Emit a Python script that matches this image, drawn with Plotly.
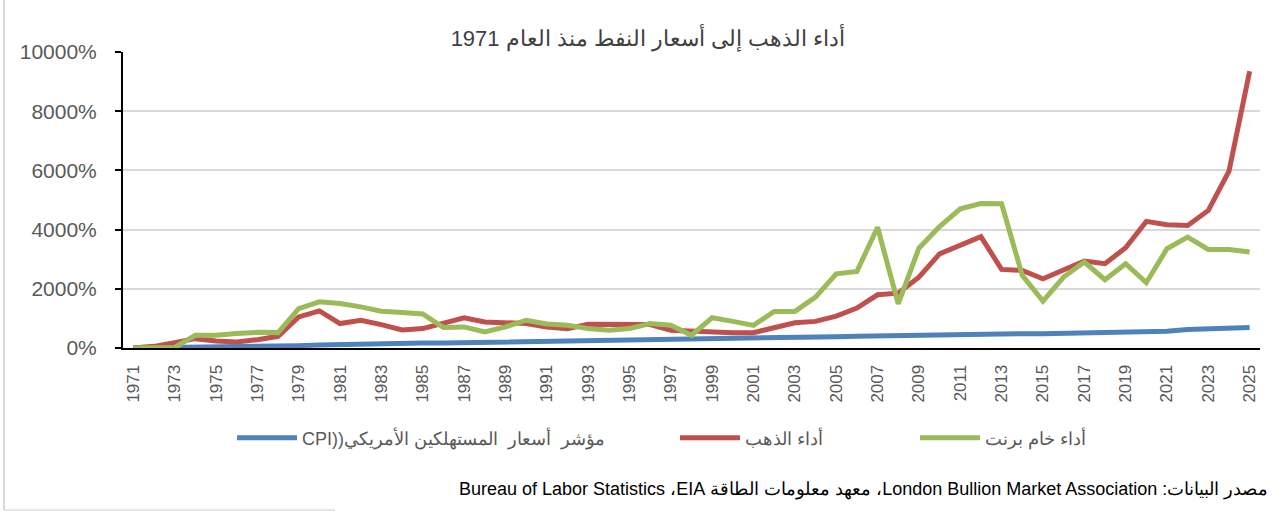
import plotly.graph_objects as go

years = list(range(1971, 2026))

cpi = [0, 5, 12, 22, 33, 40, 50, 61, 79, 103, 124, 138, 146, 157, 166, 171, 180, 192, 206, 223,
       236, 246, 257, 266, 276, 287, 296, 302, 311, 325, 337, 344, 354, 366, 382, 398, 412, 432,
       430, 439, 455, 467, 475, 484, 485, 493, 505, 520, 531, 539, 569, 623, 652, 675, 690]

gold = [0, 56, 180, 316, 237, 203, 282, 395, 1050, 1254, 825, 938, 791, 610, 655, 847, 1017, 881,
        847, 825, 712, 655, 802, 791, 791, 791, 600, 562, 562, 517, 517, 685, 854, 899, 1079, 1348,
        1798, 1854, 2393, 3180, 3461, 3760, 2656, 2622, 2341, 2622, 2937, 2848, 3388, 4277, 4164,
        4142, 4648, 5977, 9353]

brent = [0, 0, 20, 430, 430, 486, 530, 520, 1333, 1559, 1503, 1390, 1243, 1200, 1150, 690, 712,
         542, 712, 938, 810, 768, 655, 599, 655, 825, 768, 430, 1022, 899, 764, 1236, 1236, 1719,
         2506, 2584, 4079, 1494, 3371, 4101, 4700, 4880, 4873, 2454, 1587, 2397, 2904, 2307, 2848,
         2206, 3354, 3748, 3331, 3331, 3241]

tick_years = list(range(1971, 2026, 2))
y_ticks = [0, 2000, 4000, 6000, 8000, 10000]

name_cpi = "CPI))مؤشر  أسعار  المستهلكين الأمريكي"
name_gold = "أداء الذهب"
name_brent = "أداء خام برنت"
title_text = "أداء الذهب إلى أسعار النفط منذ العام 1971"
source_text = ("\u202bمصدر البيانات: London Bullion Market Association، معهد معلومات الطاقة "
               "EIA\u200f، Bureau of Labor Statistics\u202c")

W, H = 1287, 511
L, R, T, B = 123, 27, 52, 163
pw = W - L - R
ph = H - T - B

fig = go.Figure()
fig.add_trace(go.Scatter(x=years, y=cpi, mode="lines", name=name_cpi,
                         line=dict(color="#4F81BD", width=5), legend="legend"))
fig.add_trace(go.Scatter(x=years, y=gold, mode="lines", name=name_gold,
                         line=dict(color="#C0504D", width=5), legend="legend2"))
fig.add_trace(go.Scatter(x=years, y=brent, mode="lines", name=name_brent,
                         line=dict(color="#9BBB59", width=5), legend="legend3"))

def px2x(px):
    return (px - L) / pw

def py2y(py):
    return 1 - (py - T) / ph

leg_common = dict(orientation="h", yanchor="middle", xanchor="left", y=py2y(438),
                  font=dict(family="Liberation Sans", size=18, color="#595959"),
                  bgcolor="rgba(0,0,0,0)", borderwidth=0, itemwidth=60)

fig.update_layout(
    width=W, height=H,
    margin=dict(l=L, r=R, t=T, b=B),
    paper_bgcolor="white", plot_bgcolor="white",
    title=dict(text=title_text, x=648 / W, xanchor="center", y=1 - 38 / H, yanchor="middle",
               font=dict(family="Liberation Sans", size=22, color="#404040")),
    showlegend=True,
    legend=dict(x=px2x(232), **leg_common),
    legend2=dict(x=px2x(675), **leg_common),
    legend3=dict(x=px2x(915), **leg_common),
    xaxis=dict(range=[1970.5, 2025.5], tickmode="array", tickvals=tick_years,
               ticktext=[str(y) for y in tick_years], tickangle=-90,
               showgrid=False, zeroline=False, showline=True, linecolor="black", linewidth=2,
               ticks="", ticklabelstandoff=8,
               tickfont=dict(family="Liberation Sans", size=17, color="#595959")),
    yaxis=dict(range=[0, 10000], tickmode="array", tickvals=y_ticks,
               ticktext=[f"{v}%" for v in y_ticks],
               showgrid=True, gridcolor="#D9D9D9", gridwidth=1.5, zeroline=False,
               showline=True, linecolor="black", linewidth=2, ticks="outside",
               tickcolor="black", ticklen=6, tickwidth=2, ticklabelstandoff=14,
               tickfont=dict(family="Liberation Sans", size=21, color="#595959")),
    annotations=[dict(text=source_text, xref="paper", yref="paper",
                      x=px2x(1270), y=py2y(489), xanchor="right", yanchor="middle",
                      showarrow=False,
                      font=dict(family="Liberation Sans", size=18, color="black"))],
    shapes=[
        dict(type="line", xref="paper", yref="paper", x0=px2x(4), x1=px2x(4),
             y0=py2y(0), y1=py2y(510), line=dict(color="#D9D9D9", width=2)),
        dict(type="line", xref="paper", yref="paper", x0=px2x(4), x1=px2x(335),
             y0=py2y(510), y1=py2y(510), line=dict(color="#E6E6E6", width=2)),
    ],
)

fig.write_html("out.html", config={"displayModeBar": False},
               post_script="document.body.style.margin='0';")
